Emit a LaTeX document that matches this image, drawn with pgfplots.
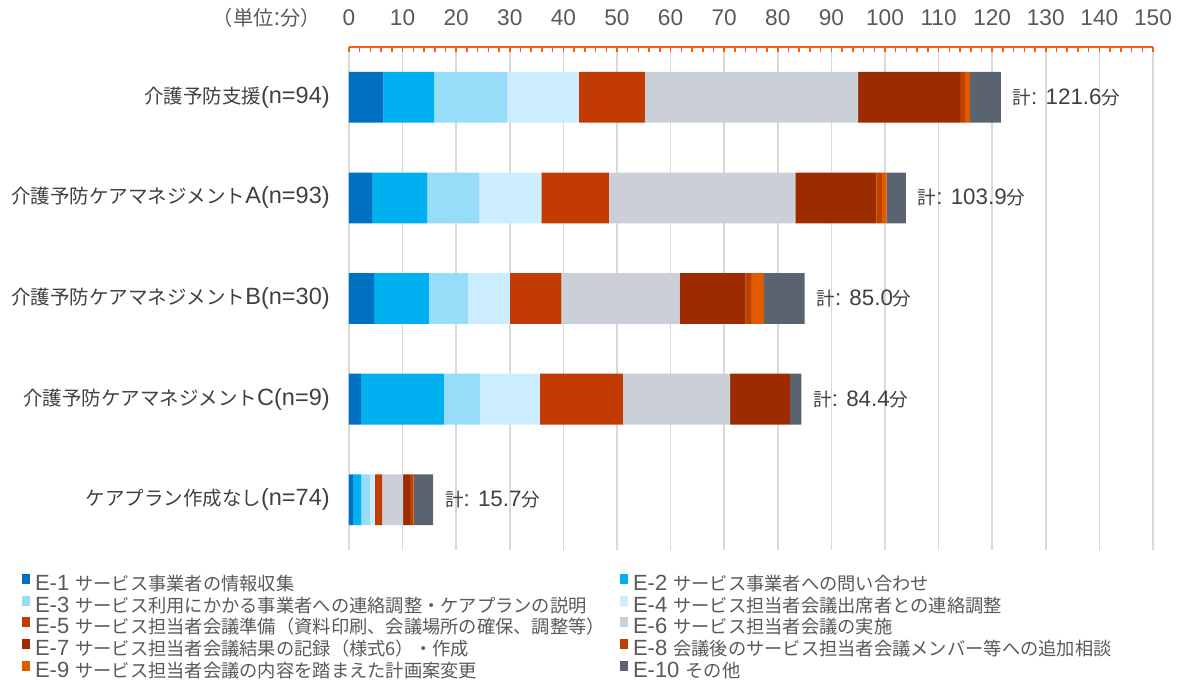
\documentclass[border=0pt]{standalone}
\usepackage{pgfplots}
\usepackage{pgfplotstable}
\pgfplotsset{compat=1.18}
\usepackage{fontspec}
\setmainfont{Liberation Sans}
\newfontfamily\cjk{Noto Sans CJK JP}[Scale=0.83]
\newcommand\J[1]{{\cjk #1}}

\newlength\px
\setlength\px{0.6pt}

\definecolor{e1}{HTML}{0070C0}
\definecolor{e2}{HTML}{00B0F0}
\definecolor{e3}{HTML}{97DCF8}
\definecolor{e4}{HTML}{CCECFF}
\definecolor{e5}{HTML}{C23B02}
\definecolor{e6}{HTML}{CBD0D8}
\definecolor{e7}{HTML}{9C2C00}
\definecolor{e8}{HTML}{C04000}
\definecolor{e9}{HTML}{E05A00}
\definecolor{e10}{HTML}{5A6470}
\definecolor{axorange}{HTML}{FF5A14}
\definecolor{gridgray}{HTML}{D9D9D9}
\definecolor{labtext}{HTML}{404040}
\definecolor{ticktext}{HTML}{595959}

% minutes per task category, one row per group (y = row position, top = 4)
\pgfplotstableread{
y e1  e2   e3   e4   e5   e6   e7   e8  e9  e10
4 6.4 9.5  13.6 13.4 12.3 39.8 19.0 0.9 1.0 5.7
3 4.3 10.3 9.7  11.6 12.6 34.8 15.1 1.0 0.9 3.6
2 4.7 10.2 7.3  7.8  9.6  22.1 12.3 1.0 2.4 7.6
1 2.2 15.5 6.7  11.2 15.5 20.0 11.2 0   0   2.1
0 0.7 1.6  1.6  0.95 1.35 3.9  1.3  0.6 0.1 3.6
}\segs

% one bar series with a small square legend swatch
\pgfplotsset{seg/.style={fill=#1, draw=none,
  legend image code/.code={%
    \path[use as bounding box] (0pt,1.3pt) rectangle (4.8pt,5.5pt);
    \fill[#1] (0pt,2.6pt) rectangle (4.8pt,7.4pt);}}}

\begin{document}
\begin{tikzpicture}
\path[use as bounding box] (0,0) rectangle (1178\px,-682\px);
\begin{axis}[
  at={(349\px,-47\px)}, anchor=north west,
  scale only axis, width=804\px, height=503\px,
  xbar stacked, bar width=0.505,
  xmin=0, xmax=150, ymin=-0.5, ymax=4.5,
  axis x line*=top, axis y line*=left,
  x axis line style={color=axorange, line width=2\px},
  y axis line style={draw=none},
  xtick={0,10,...,150}, minor x tick num=4,
  tick align=inside,
  major tick length=5\px, minor tick length=5\px,
  xtick style={color=axorange, line width=1.5\px},
  ytick style={draw=none},
  xmajorgrids=true,
  major grid style={color=gridgray, line width=1.5\px},
  /pgf/number format/assume math mode=true,
  xticklabel style={font=\fontsize{13.6}{15}\selectfont, text=ticktext, yshift=15\px},
  ytick={0,1,2,3,4},
  yticklabels={
    \J{ケアプラン作成なし}(n=74),
    \J{介護予防ケアマネジメント}C(n=9),
    \J{介護予防ケアマネジメント}B(n=30),
    \J{介護予防ケアマネジメント}A(n=93),
    \J{介護予防支援}(n=94)},
  yticklabel style={font=\fontsize{14.1}{16}\selectfont, text=labtext, anchor=east, inner sep=0pt, xshift=-19\px},
  clip=false,
  legend columns=2,
  legend cell align=left,
  legend style={at={(-0.4067,-0.0537)}, anchor=north west, draw=none, fill=none,
    inner sep=0pt, outer sep=0pt,
    font=\fontsize{13.2}{15}\selectfont, text=ticktext,
    row sep=3.8\px, column sep=0pt,
    nodes={inner sep=0pt, text height=13\px, text depth=4.5\px}},
]
\addplot[seg=e1] table[x=e1,y=y]{\segs};
\addplot[seg=e2] table[x=e2,y=y]{\segs};
\addplot[seg=e3] table[x=e3,y=y]{\segs};
\addplot[seg=e4] table[x=e4,y=y]{\segs};
\addplot[seg=e5] table[x=e5,y=y]{\segs};
\addplot[seg=e6] table[x=e6,y=y]{\segs};
\addplot[seg=e7] table[x=e7,y=y]{\segs};
\addplot[seg=e8] table[x=e8,y=y]{\segs};
\addplot[seg=e9] table[x=e9,y=y]{\segs};
\addplot[seg=e10] table[x=e10,y=y]{\segs};
\legend{
  \makebox[590\px][l]{\hspace*{5\px}E-1 \J{サービス事業者の情報収集}},
  \hspace*{5\px}E-2 \J{サービス事業者への問い合わせ},
  \makebox[590\px][l]{\hspace*{5\px}E-3 \J{サービス利用にかかる事業者への連絡調整・ケアプランの説明}},
  \hspace*{5\px}E-4 \J{サービス担当者会議出席者との連絡調整},
  \makebox[590\px][l]{\hspace*{5\px}E-5 \J{サービス担当者会議準備（資料印刷、会議場所の確保、調整等）}},
  \hspace*{5\px}E-6 \J{サービス担当者会議の実施},
  \makebox[590\px][l]{\hspace*{5\px}E-7 \J{サービス担当者会議結果の記録（様式6）・作成}},
  \hspace*{5\px}E-8 \J{会議後のサービス担当者会議メンバー等への追加相談},
  \makebox[590\px][l]{\hspace*{5\px}E-9 \J{サービス担当者会議の内容を踏まえた計画案変更}},
  \hspace*{5\px}E-10 \J{その他}}
% totals at the end of each bar
\node[anchor=west, xshift=6\px, text=labtext, font=\fontsize{13.4}{16}\selectfont] at (axis cs:121.6,4) {\J{計}: 121.6\J{分}};
\node[anchor=west, xshift=6\px, text=labtext, font=\fontsize{13.4}{16}\selectfont] at (axis cs:103.9,3) {\J{計}: 103.9\J{分}};
\node[anchor=west, xshift=6\px, text=labtext, font=\fontsize{13.4}{16}\selectfont] at (axis cs:85.0,2) {\J{計}: 85.0\J{分}};
\node[anchor=west, xshift=6\px, text=labtext, font=\fontsize{13.4}{16}\selectfont] at (axis cs:84.4,1) {\J{計}: 84.4\J{分}};
\node[anchor=west, xshift=6\px, text=labtext, font=\fontsize{13.4}{16}\selectfont] at (axis cs:15.7,0) {\J{計}: 15.7\J{分}};
\end{axis}
\node[anchor=east, text=ticktext, font=\fontsize{14.6}{16}\selectfont, inner sep=0pt] at (321\px,-18\px) {\J{（単位}:\J{分）}};
\end{tikzpicture}
\end{document}
